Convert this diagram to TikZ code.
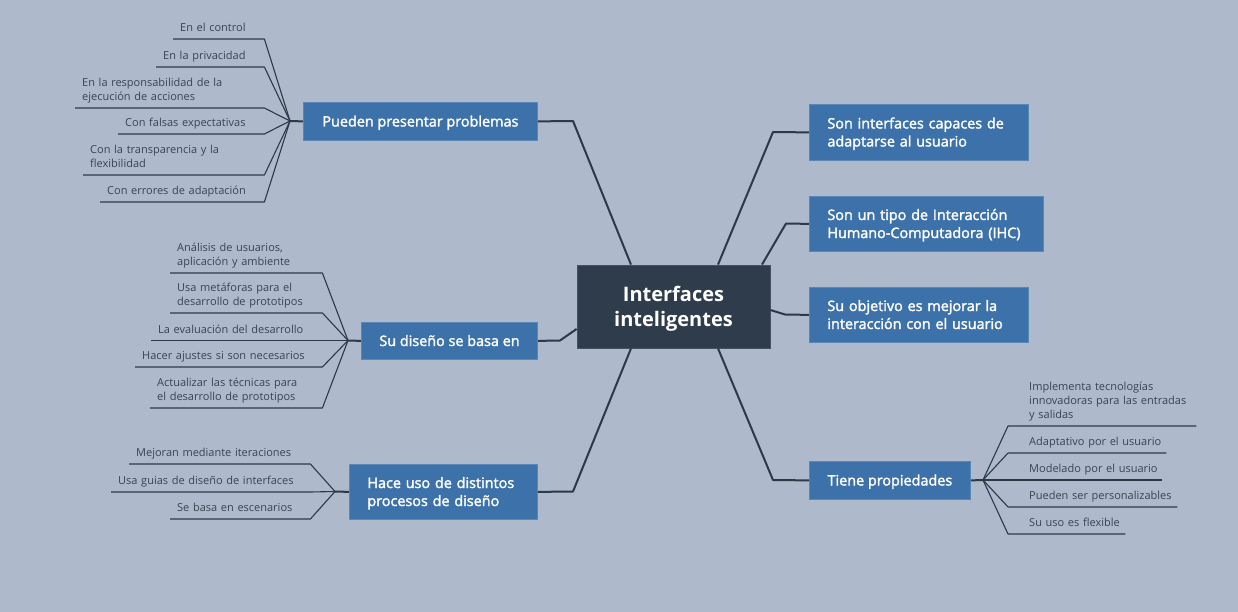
\documentclass[tikz,border=0pt]{standalone}
\usepackage{fontspec}
\setmainfont{Open Sans}
\newfontface\semib{Open Sans}[FakeBold=2]
\definecolor{bg}{HTML}{AEBACB}
\definecolor{boxblue}{HTML}{3D71A9}
\definecolor{boxedge}{HTML}{5B87B6}
\definecolor{hubfill}{HTML}{2F3C4B}
\definecolor{hubedge}{HTML}{46525F}
\definecolor{linec}{HTML}{2E3945}
\definecolor{leaftext}{HTML}{3A4351}
\begin{document}
\begin{tikzpicture}[x=1pt,y=-1pt,
  hub/.style={fill=hubfill, draw=hubedge, line width=0.8pt, text=white, align=center,
    font=\bfseries\fontsize{20}{25}\selectfont, minimum width=193pt, minimum height=83pt, inner sep=0pt},
  box/.style={fill=boxblue, draw=boxedge, line width=0.8pt, text=white, anchor=north west,
    font=\semib\fontsize{14.4}{18}\selectfont, inner xsep=18pt, inner ysep=0pt,
    execute at begin node=\rule{0pt}{15.6pt}, execute at end node=\strut},
  boxm/.style={box, text width=#1,
    execute at begin node={\raggedright\rightskip=-40pt plus 1fil\relax\rule{0pt}{15.6pt}}},
  leafL/.style={anchor=south west, inner xsep=7pt, inner ysep=2.8pt, text width=#1,
    font=\fontsize{11}{14}\selectfont, text=leaftext,
    execute at begin node={\raggedright\rightskip=-40pt plus 1fil\relax},
    execute at end node=\strut},
  leafR/.style={anchor=south west, inner xsep=8pt, inner ysep=2.8pt, text width=#1,
    font=\fontsize{11}{14}\selectfont, text=leaftext,
    execute at begin node={\raggedright\leftskip=13pt\rightskip=-40pt plus 1fil\relax},
    execute at end node=\strut},
  main/.style={draw=linec, line width=2pt, line join=round},
  twig/.style={draw=linec, line width=1.1pt, line join=round}
]
\fill[bg] (0,0) rectangle (1238,612);
\useasboundingbox (0,0) rectangle (1238,612);

% hub
\node[hub] (c) at (673.5,306.5) {\rule{0pt}{19pt}Interfaces\\inteligentes};

% right boxes
\node[boxm=183pt, minimum height=56pt] (r1) at (809,104) {Son interfaces capaces de\\adaptarse al usuario};
\node[boxm=198pt, minimum height=55pt] (r2) at (809,196) {Son un tipo de Interacción\\Humano-Computadora (IHC)};
\node[boxm=183pt, minimum height=55pt] (r3) at (809,287) {Su objetivo es mejorar la\\interacción con el usuario};
\node[box, minimum width=161pt, minimum height=38pt] (r4) at (809,461) {Tiene propiedades};

% left boxes
\node[box, minimum width=234pt, minimum height=38pt] (l1) at (303,102) {Pueden presentar problemas};
\node[box, minimum width=176pt, minimum height=37pt] (l2) at (361,322) {Su diseño se basa en};
\node[boxm=152pt, minimum height=55pt] (l3) at (349,464) {Hace uso de distintos\\procesos de diseño};

% main connectors
\draw[main] ([xshift=44.5pt]c.north) -- (773,132) -- (r1.west);
\draw[main] ([xshift=88.5pt]c.north) -- (786,223.5) -- (r2.west);
\draw[main] ([yshift=-3.5pt]c.east) -- (785,314.5) -- (r3.west);
\draw[main] ([xshift=44.5pt]c.south) -- (773,480) -- (r4.west);
\draw[main] ([xshift=-42.5pt]c.north) -- (573,121) -- (l1.east);
\draw[main] ([yshift=-22.5pt]c.west) -- (560,340.5) -- (l2.east);
\draw[main] ([xshift=-42.5pt]c.south) -- (573,491.5) -- (l3.east);

% junctions
\coordinate (j1) at (290,121);
\coordinate (j2) at (348,340.5);
\coordinate (j3) at (335,491.5);
\coordinate (j4) at (983,480);
\draw[main] (l1.west) -- (j1);
\draw[main] (l2.west) -- (j2);
\draw[main] (l3.west) -- (j3);
\draw[main] (r4.east) -- (j4);

% group 1
\node[leafL=77pt] (a1) at (173,39) {En el control};
\node[leafL=94pt] (a2) at (156,67) {En la privacidad};
\node[leafL=175pt] (a3) at (75,108) {En la responsabilidad de la\\ejecución de acciones};
\node[leafL=132pt] (a4) at (118,134) {Con falsas expectativas};
\node[leafL=167pt] (a5) at (83,175) {Con la transparencia y la\\flexibilidad};
\node[leafL=150pt] (a6) at (100,202) {Con errores de adaptación};
\foreach \n in {a1,a2,a3,a4,a5,a6}
  \draw[twig] (\n.south west) -- (\n.south east) -- (j1);

% group 2
\node[leafL=138pt] (b1) at (170,273) {Análisis de usuarios,\\aplicación y ambiente};
\node[leafL=138pt] (b2) at (170,313) {Usa metáforas para el\\desarrollo de prototipos};
\node[leafL=157pt] (b3) at (151,340.5) {La evaluación del desarrollo};
\node[leafL=173pt] (b4) at (135,367) {Hacer ajustes si son necesarios};
\node[leafL=158pt] (b5) at (150,408) {Actualizar las técnicas para\\el desarrollo de prototipos};
\foreach \n in {b1,b2,b3,b4,b5}
  \draw[twig] (\n.south west) -- (\n.south east) -- (j2);

% group 3
\node[leafL=167pt] (c1) at (129,464) {Mejoran mediante iteraciones};
\node[leafL=185pt] (c2) at (111,492) {Usa guias de diseño de interfaces};
\node[leafL=126pt] (c3) at (170,519) {Se basa en escenarios};
\foreach \n in {c1,c2,c3}
  \draw[twig] (\n.south west) -- (\n.south east) -- (j3);

% group 4
\node[leafR=172pt] (d1) at (1008,426) {Implementa tecnologías\\innovadoras para las entradas\\y salidas};
\node[leafR=142pt] (d2) at (1008,453) {Adaptativo por el usuario};
\node[leafR=138pt] (d3) at (1008,480) {Modelado por el usuario};
\node[leafR=153pt] (d4) at (1008,507) {Pueden ser personalizables};
\node[leafR=101pt] (d5) at (1008,534) {Su uso es flexible};
\foreach \n in {d1,d2,d3,d4,d5}
  \draw[twig] (\n.south east) -- (\n.south west) -- (j4);
\end{tikzpicture}
\end{document}
